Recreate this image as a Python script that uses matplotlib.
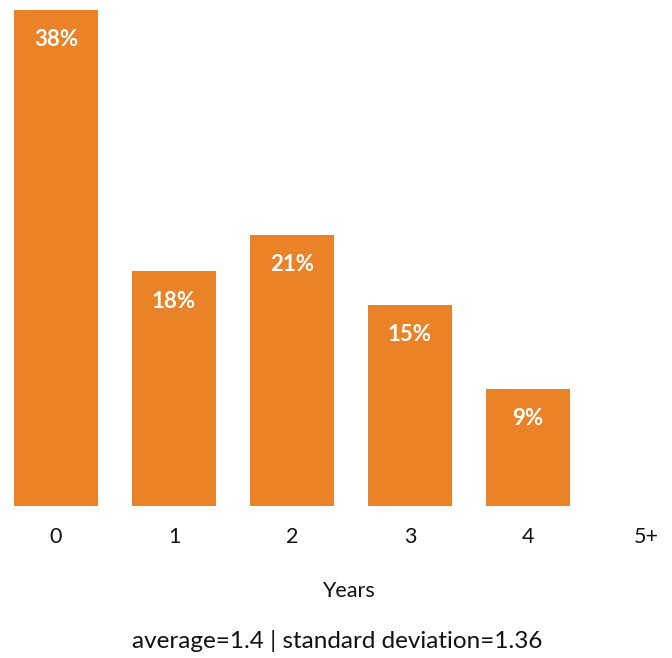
import matplotlib
matplotlib.use("Agg")
import matplotlib.pyplot as plt

categories = ["0", "1", "2", "3", "4", "5+"]
shares = [38, 18, 20.8, 15.4, 9, 0]
bar_labels = ["38%", "18%", "21%", "15%", "9%", ""]
x_title = "Years"
footer = "average=1.4 | standard deviation=1.36"

plt.rcParams['font.family'] = ['Lato', 'DejaVu Sans']

W, H = 672, 658
fig = plt.figure(figsize=(W / 100, H / 100), dpi=100)
bottom_px = 506
ax = fig.add_axes([0, (H - bottom_px) / H, 1, bottom_px / H])

color = "#EA8228"
xs = list(range(len(categories)))
ax.bar(xs, shares, width=0.71, color=color)
ax.set_xlim(-56 / 118, (W - 56) / 118)
px_per = (bottom_px - 10) / 38
ax.set_ylim(0, bottom_px / px_per)

for x, v, lab in zip(xs, shares, bar_labels):
    if lab:
        ax.annotate(lab, (x, v), xytext=(0, -30), textcoords="offset pixels",
                    ha="center", va="center", color="white",
                    fontsize=16, fontweight="bold")

ax.set_xticks(xs)
ax.set_xticklabels(categories, fontsize=15.5, color="#111111")
ax.tick_params(axis="x", length=0, pad=15)
ax.set_yticks([])
for s in ax.spines.values():
    s.set_visible(False)

fig.text(348 / W, 1 - 591 / H, x_title, ha="center", va="center",
         fontsize=15.5, color="#111111")
fig.text(337 / W, 1 - 641 / H, footer, ha="center", va="center",
         fontsize=17.5, color="#111111")

fig.savefig("out.png", dpi=100)
